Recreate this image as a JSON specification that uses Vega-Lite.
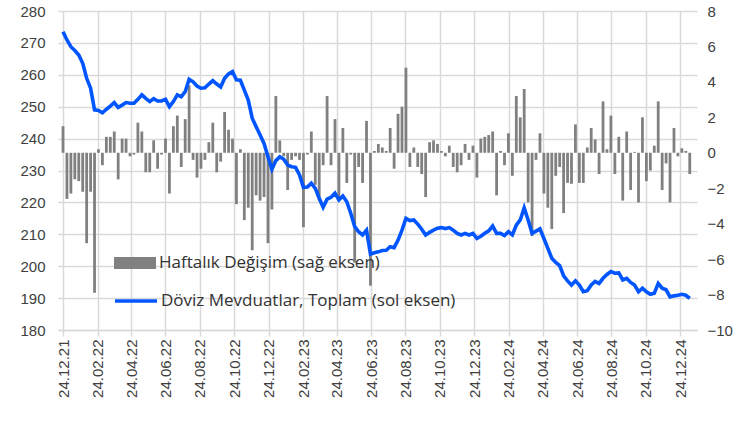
{
  "$schema": "https://vega.github.io/schema/vega-lite/v6.json",
  "width": 639,
  "height": 319,
  "autosize": "none",
  "padding": {"left": 58, "top": 11, "right": 47, "bottom": 93},
  "background": "white",
  "config": {
    "view": {"stroke": null},
    "axis": {"labelFont": "Liberation Sans", "labelFontSize": 15, "labelColor": "#404040", "title": null},
    "legend": {"labelFont": "Open Sans", "labelFontSize": 17, "labelColor": "#333333", "padding": 0, "labelOffset": 2, "labelLimit": 500, "title": null}
  },
  "data": {"values": [
    {"date":"2021-12-24","change":1.5,"value":273.5},
    {"date":"2021-12-31","change":-2.6,"value":270.9},
    {"date":"2022-01-07","change":-2.3,"value":268.8},
    {"date":"2022-01-14","change":-1.5,"value":267.6},
    {"date":"2022-01-21","change":-1.6,"value":266.2},
    {"date":"2022-01-28","change":-2.2,"value":263.6},
    {"date":"2022-02-04","change":-5.1,"value":258.9},
    {"date":"2022-02-11","change":-2.2,"value":255.8},
    {"date":"2022-02-18","change":-7.9,"value":249.0},
    {"date":"2022-02-25","change":0.2,"value":248.8},
    {"date":"2022-03-04","change":-0.7,"value":248.1},
    {"date":"2022-03-11","change":0.9,"value":249.2},
    {"date":"2022-03-18","change":0.9,"value":250.2},
    {"date":"2022-03-25","change":1.2,"value":251.3},
    {"date":"2022-04-01","change":-1.5,"value":249.8},
    {"date":"2022-04-08","change":0.8,"value":250.5},
    {"date":"2022-04-15","change":0.8,"value":251.3},
    {"date":"2022-04-22","change":-0.2,"value":251.1},
    {"date":"2022-04-29","change":-0.1,"value":251.1},
    {"date":"2022-05-06","change":1.7,"value":252.3},
    {"date":"2022-05-13","change":1.2,"value":253.7},
    {"date":"2022-05-20","change":-1.1,"value":252.6},
    {"date":"2022-05-27","change":-1.1,"value":251.6},
    {"date":"2022-06-03","change":0.7,"value":252.5},
    {"date":"2022-06-10","change":-0.9,"value":251.8},
    {"date":"2022-06-17","change":-0.1,"value":251.8},
    {"date":"2022-06-24","change":0.8,"value":252.3},
    {"date":"2022-07-01","change":-2.3,"value":250.0},
    {"date":"2022-07-08","change":1.5,"value":251.6},
    {"date":"2022-07-15","change":2.1,"value":253.7},
    {"date":"2022-07-22","change":-0.8,"value":253.1},
    {"date":"2022-07-29","change":1.9,"value":254.7},
    {"date":"2022-08-05","change":3.8,"value":258.6},
    {"date":"2022-08-12","change":-0.4,"value":257.8},
    {"date":"2022-08-19","change":-1.4,"value":256.5},
    {"date":"2022-08-26","change":-0.9,"value":255.8},
    {"date":"2022-09-02","change":-0.4,"value":255.9},
    {"date":"2022-09-09","change":0.6,"value":257.1},
    {"date":"2022-09-16","change":1.7,"value":258.2},
    {"date":"2022-09-23","change":-1.1,"value":257.1},
    {"date":"2022-09-30","change":-0.5,"value":256.2},
    {"date":"2022-10-07","change":2.3,"value":258.9},
    {"date":"2022-10-14","change":1.3,"value":260.3},
    {"date":"2022-10-21","change":0.8,"value":261.0},
    {"date":"2022-10-28","change":-2.9,"value":258.4},
    {"date":"2022-11-04","change":0.2,"value":258.3},
    {"date":"2022-11-11","change":-3.8,"value":255.2},
    {"date":"2022-11-18","change":-3.1,"value":252.1},
    {"date":"2022-11-25","change":-5.5,"value":246.4},
    {"date":"2022-12-02","change":-2.4,"value":243.7},
    {"date":"2022-12-09","change":-2.7,"value":241.1},
    {"date":"2022-12-16","change":-2.5,"value":238.5},
    {"date":"2022-12-23","change":-5.1,"value":234.3},
    {"date":"2022-12-30","change":-3.2,"value":230.4},
    {"date":"2023-01-06","change":3.2,"value":233.1},
    {"date":"2023-01-13","change":0.7,"value":234.3},
    {"date":"2023-01-20","change":-0.2,"value":233.5},
    {"date":"2023-01-27","change":-2.1,"value":231.7},
    {"date":"2023-02-03","change":-0.4,"value":231.2},
    {"date":"2023-02-10","change":-0.2,"value":231.0},
    {"date":"2023-02-17","change":-0.4,"value":228.6},
    {"date":"2023-02-24","change":-4.2,"value":224.7},
    {"date":"2023-03-03","change":-0.1,"value":224.8},
    {"date":"2023-03-10","change":1.2,"value":226.0},
    {"date":"2023-03-17","change":-1.8,"value":224.4},
    {"date":"2023-03-24","change":-2.7,"value":221.3},
    {"date":"2023-03-31","change":-0.7,"value":218.5},
    {"date":"2023-04-07","change":3.2,"value":221.0},
    {"date":"2023-04-14","change":-0.7,"value":221.6},
    {"date":"2023-04-21","change":1.9,"value":222.9},
    {"date":"2023-04-28","change":-2.5,"value":220.8},
    {"date":"2023-05-05","change":1.4,"value":222.0},
    {"date":"2023-05-12","change":-1.7,"value":220.2},
    {"date":"2023-05-19","change":-0.1,"value":216.6},
    {"date":"2023-05-26","change":-6.2,"value":212.4},
    {"date":"2023-06-02","change":-0.8,"value":210.8},
    {"date":"2023-06-09","change":-1.7,"value":209.8},
    {"date":"2023-06-16","change":1.8,"value":211.3},
    {"date":"2023-06-23","change":-7.5,"value":203.8},
    {"date":"2023-06-30","change":0.1,"value":204.2},
    {"date":"2023-07-07","change":0.5,"value":204.5},
    {"date":"2023-07-14","change":0.3,"value":204.9},
    {"date":"2023-07-21","change":0.1,"value":205.0},
    {"date":"2023-07-28","change":1.4,"value":206.1},
    {"date":"2023-08-04","change":-0.9,"value":205.8},
    {"date":"2023-08-11","change":2.2,"value":208.2},
    {"date":"2023-08-18","change":2.6,"value":211.3},
    {"date":"2023-08-25","change":4.8,"value":215.0},
    {"date":"2023-09-01","change":-0.8,"value":214.3},
    {"date":"2023-09-08","change":0.3,"value":214.5},
    {"date":"2023-09-15","change":-0.8,"value":213.2},
    {"date":"2023-09-22","change":-1.2,"value":211.6},
    {"date":"2023-09-29","change":-2.5,"value":209.8},
    {"date":"2023-10-06","change":0.6,"value":210.6},
    {"date":"2023-10-13","change":0.7,"value":211.3},
    {"date":"2023-10-20","change":0.5,"value":211.9},
    {"date":"2023-10-27","change":0.1,"value":212.1},
    {"date":"2023-11-03","change":-0.2,"value":211.8},
    {"date":"2023-11-10","change":0.4,"value":212.1},
    {"date":"2023-11-17","change":-0.8,"value":211.3},
    {"date":"2023-11-24","change":-1.1,"value":210.3},
    {"date":"2023-12-01","change":-0.7,"value":209.8},
    {"date":"2023-12-08","change":0.5,"value":210.3},
    {"date":"2023-12-15","change":-0.4,"value":209.8},
    {"date":"2023-12-22","change":0.4,"value":210.3},
    {"date":"2023-12-29","change":-1.4,"value":208.7},
    {"date":"2024-01-05","change":0.8,"value":209.4},
    {"date":"2024-01-12","change":0.9,"value":210.3},
    {"date":"2024-01-19","change":1.0,"value":211.1},
    {"date":"2024-01-26","change":1.2,"value":212.6},
    {"date":"2024-02-02","change":-2.4,"value":210.3},
    {"date":"2024-02-09","change":0.1,"value":210.3},
    {"date":"2024-02-16","change":-0.7,"value":209.6},
    {"date":"2024-02-23","change":1.1,"value":210.8},
    {"date":"2024-03-01","change":-1.3,"value":209.8},
    {"date":"2024-03-08","change":3.2,"value":212.9},
    {"date":"2024-03-15","change":2.0,"value":214.5},
    {"date":"2024-03-22","change":3.6,"value":218.3},
    {"date":"2024-03-29","change":-2.8,"value":214.5},
    {"date":"2024-04-05","change":-4.7,"value":210.3},
    {"date":"2024-04-12","change":-0.4,"value":211.0},
    {"date":"2024-04-19","change":1.1,"value":211.7},
    {"date":"2024-04-26","change":-2.3,"value":208.7},
    {"date":"2024-05-03","change":-3.1,"value":205.6},
    {"date":"2024-05-10","change":-4.3,"value":202.5},
    {"date":"2024-05-17","change":-1.3,"value":201.2},
    {"date":"2024-05-24","change":-0.8,"value":200.2},
    {"date":"2024-05-31","change":-3.4,"value":197.0},
    {"date":"2024-06-07","change":-1.7,"value":195.4},
    {"date":"2024-06-14","change":-1.75,"value":194.1},
    {"date":"2024-06-21","change":1.6,"value":195.4},
    {"date":"2024-06-28","change":-1.7,"value":194.1},
    {"date":"2024-07-05","change":-1.7,"value":192.0},
    {"date":"2024-07-12","change":0.3,"value":192.3},
    {"date":"2024-07-19","change":1.4,"value":194.1},
    {"date":"2024-07-26","change":0.75,"value":195.2},
    {"date":"2024-08-02","change":-1.2,"value":194.6},
    {"date":"2024-08-09","change":2.9,"value":196.2},
    {"date":"2024-08-16","change":0.2,"value":197.4},
    {"date":"2024-08-23","change":2.1,"value":198.3},
    {"date":"2024-08-30","change":-1.2,"value":197.8},
    {"date":"2024-09-06","change":0.9,"value":197.9},
    {"date":"2024-09-13","change":-2.7,"value":195.7},
    {"date":"2024-09-20","change":1.2,"value":196.2},
    {"date":"2024-09-27","change":-2.1,"value":194.9},
    {"date":"2024-10-04","change":0.05,"value":194.1},
    {"date":"2024-10-11","change":-2.8,"value":192.0},
    {"date":"2024-10-18","change":2.0,"value":193.1},
    {"date":"2024-10-25","change":-1.6,"value":192.0},
    {"date":"2024-11-01","change":-1.0,"value":191.2},
    {"date":"2024-11-08","change":0.4,"value":191.5},
    {"date":"2024-11-15","change":2.9,"value":194.6},
    {"date":"2024-11-22","change":-2.1,"value":193.1},
    {"date":"2024-11-29","change":-0.6,"value":192.6},
    {"date":"2024-12-06","change":-2.8,"value":190.4},
    {"date":"2024-12-13","change":1.4,"value":190.7},
    {"date":"2024-12-20","change":-0.2,"value":190.9},
    {"date":"2024-12-27","change":0.25,"value":191.2},
    {"date":"2025-01-03","change":0.1,"value":190.9},
    {"date":"2025-01-10","change":-1.2,"value":189.9}
  ]},
  "encoding": {
    "x": {
      "field": "date",
      "type": "temporal",
      "scale": {"type": "utc", "domain": [{"year": 2021, "month": 12, "date": 24, "utc": true}, {"year": 2025, "month": 1, "date": 14, "utc": true}]},
      "axis": {
        "values": [
          {"year": 2021, "month": 12, "date": 24, "utc": true},
          {"year": 2022, "month": 2, "date": 24, "utc": true},
          {"year": 2022, "month": 4, "date": 24, "utc": true},
          {"year": 2022, "month": 6, "date": 24, "utc": true},
          {"year": 2022, "month": 8, "date": 24, "utc": true},
          {"year": 2022, "month": 10, "date": 24, "utc": true},
          {"year": 2022, "month": 12, "date": 24, "utc": true},
          {"year": 2023, "month": 2, "date": 24, "utc": true},
          {"year": 2023, "month": 4, "date": 24, "utc": true},
          {"year": 2023, "month": 6, "date": 24, "utc": true},
          {"year": 2023, "month": 8, "date": 24, "utc": true},
          {"year": 2023, "month": 10, "date": 24, "utc": true},
          {"year": 2023, "month": 12, "date": 24, "utc": true},
          {"year": 2024, "month": 2, "date": 24, "utc": true},
          {"year": 2024, "month": 4, "date": 24, "utc": true},
          {"year": 2024, "month": 6, "date": 24, "utc": true},
          {"year": 2024, "month": 8, "date": 24, "utc": true},
          {"year": 2024, "month": 10, "date": 24, "utc": true},
          {"year": 2024, "month": 12, "date": 24, "utc": true}
        ],
        "labelExpr": "utcFormat(datum.value, '%d.%m.%y')",
        "labelAngle": -90,
        "labelAlign": "right",
        "labelBaseline": "middle",
        "labelPadding": 3,
        "labelFlush": false,
        "labelOverlap": false,
        "grid": true,
        "gridColor": "#d9d9d9",
        "gridWidth": 1.5,
        "domain": true,
        "domainColor": "#d9d9d9",
        "domainWidth": 1.5,
        "ticks": true,
        "tickColor": "#d9d9d9",
        "tickWidth": 1.5,
        "tickSize": 6
      }
    }
  },
  "layer": [
    {
      "mark": {"type": "bar", "size": 2.8},
      "encoding": {
        "y": {
          "field": "change",
          "type": "quantitative",
          "scale": {"domain": [-10, 8], "nice": false},
          "axis": {"orient": "right", "values": [-10, -8, -6, -4, -2, 0, 2, 4, 6, 8], "grid": false, "domain": false, "ticks": false, "labelPadding": 10}
        },
        "color": {
          "datum": "Haftalık Değişim (sağ eksen)",
          "scale": {"range": ["#808080"]},
          "legend": {
            "orient": "none",
            "legendX": 55,
            "legendY": 230,
            "symbolType": "M-1,-0.29H1V0.29H-1Z",
            "symbolSize": 1764,
            "symbolOpacity": 1
          }
        }
      }
    },
    {
      "mark": {"type": "line", "strokeWidth": 3.6, "interpolate": "linear"},
      "encoding": {
        "y": {
          "field": "value",
          "type": "quantitative",
          "scale": {"domain": [180, 280], "nice": false},
          "axis": {"orient": "left", "values": [180, 190, 200, 210, 220, 230, 240, 250, 260, 270, 280], "grid": true, "gridColor": "#d9d9d9", "gridWidth": 1.5, "domain": false, "ticks": false, "labelPadding": 13}
        },
        "stroke": {
          "datum": "Döviz Mevduatlar, Toplam (sol eksen)",
          "scale": {"range": ["#0055ff"]},
          "legend": {
            "orient": "none",
            "legendX": 55,
            "legendY": 267,
            "symbolType": "stroke",
            "symbolSize": 1764,
            "symbolStrokeWidth": 3.6
          }
        }
      }
    }
  ],
  "resolve": {"scale": {"y": "independent"}}
}
